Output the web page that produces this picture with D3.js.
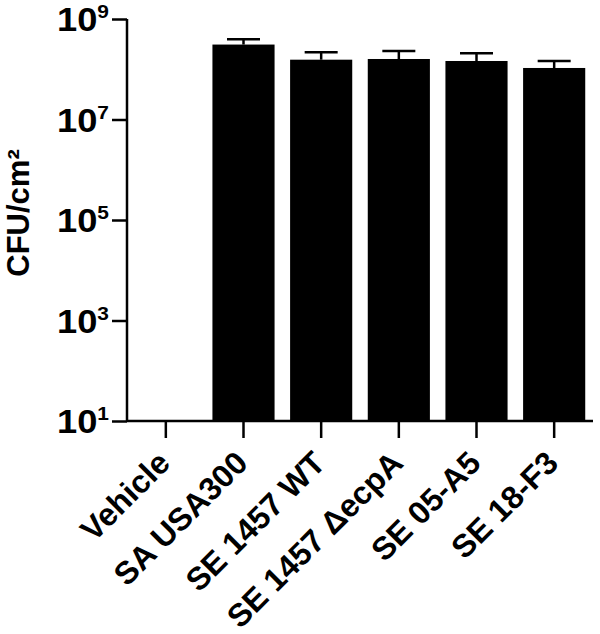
<!DOCTYPE html>
<html>
<head>
<meta charset="utf-8">
<script src="https://cdn.jsdelivr.net/npm/d3@7"></script>
<style>
  body { margin: 0; background: #fff; }
  text { font-family: "Liberation Sans", Arial, sans-serif; font-weight: bold; fill: #000; }
</style>
</head>
<body>
<div id="chart"></div>
<script>
const width = 600;
const height = 634;

// données (CFU/cm², moyenne + écart-type)
const categories = ["Vehicle", "SA USA300", "SE 1457 WT", "SE 1457 \u0394ecpA", "SE 05-A5", "SE 18-F3"];
const means = [0, 3.1e8, 1.55e8, 1.6e8, 1.46e8, 1.06e8];
const errors = [0, 0.85e8, 0.62e8, 0.71e8, 0.62e8, 0.4e8];
const tickExponents = [1, 3, 5, 7, 9];

const x = d3.scaleBand()
    .domain(categories)
    .range([127, 593])
    .paddingInner(0.2)
    .paddingOuter(0.1);

const y = d3.scaleLog()
    .domain([10, 1e9])
    .range([421, 19]);

const svg = d3.select("#chart")
    .append("svg")
    .attr("width", width)
    .attr("height", height);

// barres
svg.selectAll("rect.bar")
    .data(categories)
    .enter()
    .append("rect")
    .attr("class", "bar")
    .attr("x", d => x(d))
    .attr("width", x.bandwidth())
    .attr("y", (d, i) => means[i] > 10 ? y(means[i]) : y(10))
    .attr("height", (d, i) => means[i] > 10 ? y(10) - y(means[i]) : 0)
    .attr("fill", "#000");

// barres d'erreur (vers le haut seulement)
const err = svg.selectAll("g.err")
    .data(categories.filter((d, i) => means[i] > 10))
    .enter()
    .append("g")
    .attr("class", "err")
    .attr("stroke", "#000")
    .attr("stroke-width", 2.5);

err.append("line")
    .attr("x1", d => x(d) + x.bandwidth() / 2)
    .attr("x2", d => x(d) + x.bandwidth() / 2)
    .attr("y1", d => y(means[categories.indexOf(d)]))
    .attr("y2", d => { const i = categories.indexOf(d); return y(means[i] + errors[i]); });

err.append("line")
    .attr("x1", d => x(d) + x.bandwidth() / 2 - 16.5)
    .attr("x2", d => x(d) + x.bandwidth() / 2 + 16.5)
    .attr("y1", d => { const i = categories.indexOf(d); return y(means[i] + errors[i]); })
    .attr("y2", d => { const i = categories.indexOf(d); return y(means[i] + errors[i]); });

// axe Y
const yAxis = svg.append("g")
    .attr("transform", "translate(127,0)")
    .call(d3.axisLeft(y)
        .tickValues(tickExponents.map(e => Math.pow(10, e)))
        .tickSize(15)
        .tickFormat(""));
yAxis.select(".domain").attr("d", `M0,${y(1e9)}V${y(10)}`);
yAxis.selectAll("path, line").attr("stroke", "#000").attr("stroke-width", 2.5);

const yLabels = svg.append("g")
    .selectAll("text")
    .data(tickExponents)
    .enter()
    .append("text")
    .attr("text-anchor", "end")
    .attr("transform", e => `translate(109,${y(Math.pow(10, e)) + 12}) scale(1.1,1)`);
yLabels.append("tspan")
    .style("font-size", "33px")
    .text("10");
yLabels.append("tspan")
    .attr("dy", -13)
    .style("font-size", "19px")
    .text(e => e);

// axe X
const xAxis = svg.append("g")
    .attr("transform", `translate(0,${y(10)})`)
    .call(d3.axisBottom(x).tickSize(17).tickSizeOuter(0));
xAxis.select(".domain").attr("d", `M127,0H593`);
xAxis.selectAll("path, line").attr("stroke", "#000").attr("stroke-width", 2.5);
xAxis.selectAll("text")
    .style("font-size", "32px")
    .style("font-family", "'Liberation Sans', Arial, sans-serif")
    .style("font-weight", "bold")
    .attr("fill", "#000")
    .attr("text-anchor", "end")
    .attr("dx", "0")
    .attr("dy", "0")
    .attr("y", 0)
    .attr("x", 0)
    .attr("transform", "translate(6,44) rotate(-45)");

// titre de l'axe Y
svg.append("text")
    .attr("transform", "translate(29,213) rotate(-90)")
    .attr("text-anchor", "middle")
    .style("font-size", "31px")
    .text("CFU/cm\u00B2");
</script>
</body>
</html>
